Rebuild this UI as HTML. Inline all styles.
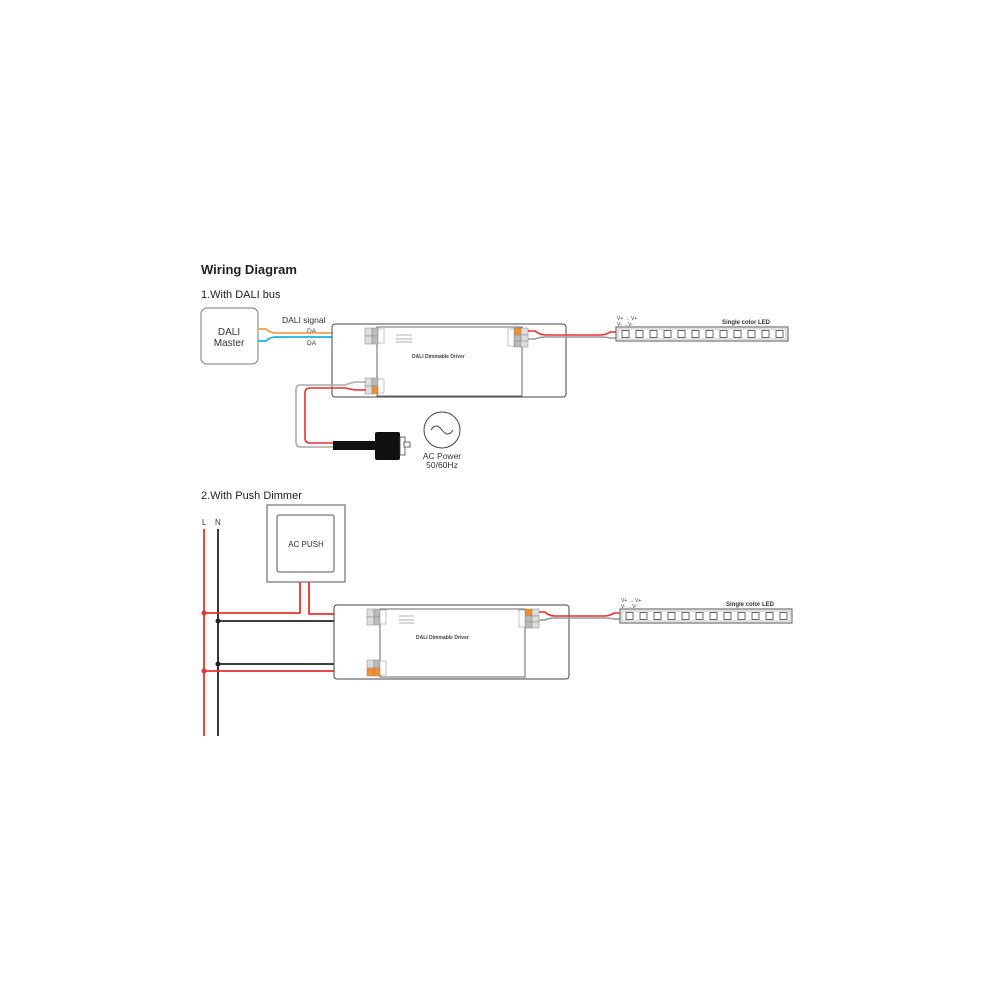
<!DOCTYPE html>
<html><head><meta charset="utf-8"><style>
html,body{margin:0;padding:0;background:#fff;width:1000px;height:1000px;overflow:hidden}
text{font-family:"Liberation Sans",sans-serif}
</style></head><body>
<svg width="1000" height="1000" viewBox="0 0 1000 1000" xmlns="http://www.w3.org/2000/svg">
<defs>
<g id="led">
  <rect x="0" y="0" width="172" height="14" fill="#fff" stroke="#555" stroke-width="1"/>
  <rect x="2" y="2" width="168" height="10" fill="none" stroke="#999" stroke-width="0.6"/>
  <g fill="#fff" stroke="#444" stroke-width="0.8">
    <rect x="6" y="3.5" width="7" height="7"/><rect x="20" y="3.5" width="7" height="7"/>
    <rect x="34" y="3.5" width="7" height="7"/><rect x="48" y="3.5" width="7" height="7"/>
    <rect x="62" y="3.5" width="7" height="7"/><rect x="76" y="3.5" width="7" height="7"/>
    <rect x="90" y="3.5" width="7" height="7"/><rect x="104" y="3.5" width="7" height="7"/>
    <rect x="118" y="3.5" width="7" height="7"/><rect x="132" y="3.5" width="7" height="7"/>
    <rect x="146" y="3.5" width="7" height="7"/><rect x="160" y="3.5" width="7" height="7"/>
  </g>
</g>
</defs>

<text x="201" y="274" font-size="13" font-weight="bold" fill="#222">Wiring Diagram</text>
<text x="201" y="298" font-size="11" fill="#222">1.With DALI bus</text>

<!-- DALI master -->
<rect x="201" y="308" width="57" height="56" rx="6" fill="#fff" stroke="#777" stroke-width="1"/>
<text x="229" y="335" font-size="10" text-anchor="middle" fill="#333">DALI</text>
<text x="229" y="346" font-size="10" text-anchor="middle" fill="#333">Master</text>
<text x="282" y="323" font-size="8.5" fill="#333">DALI signal</text>
<text x="307" y="333" font-size="6.5" fill="#333">DA</text>
<text x="307" y="345" font-size="6.5" fill="#333">DA</text>
<path d="M258 329 L266 329 Q270 333 276 333 L352 333 Q358 333 362 331 L367 331" fill="none" stroke="#f0a050" stroke-width="1.8"/>
<path d="M258 341 L266 341 Q270 337 276 337 L352 337 Q358 337 362 339 L367 339" fill="none" stroke="#20b0e0" stroke-width="1.8"/>

<!-- Driver 1 -->
<rect x="332" y="324" width="234" height="73" rx="3" fill="#fff" stroke="#444" stroke-width="1"/>
<rect x="377" y="327" width="145" height="69" fill="#fff" stroke="#444" stroke-width="0.8"/>
<g stroke="#888" stroke-width="0.5">
<rect x="365" y="328" width="7" height="8" fill="#ddd"/><rect x="372" y="328" width="6" height="8" fill="#bbb"/>
<rect x="365" y="336" width="7" height="8" fill="#ddd"/><rect x="372" y="336" width="6" height="8" fill="#bbb"/>
<rect x="365" y="378" width="7" height="8" fill="#ddd"/><rect x="372" y="378" width="6" height="8" fill="#bbb"/>
<rect x="365" y="386" width="7" height="8" fill="#ddd"/><rect x="372" y="386" width="6" height="8" fill="#f0902a"/>
<rect x="378" y="329" width="6" height="14" fill="#fff"/><rect x="378" y="379" width="6" height="14" fill="#fff"/>
<rect x="514" y="328" width="7" height="7" fill="#f0902a"/><rect x="521" y="328" width="7" height="7" fill="#ddd"/>
<rect x="514" y="335" width="7" height="6" fill="#bbb"/><rect x="521" y="335" width="7" height="6" fill="#ddd"/>
<rect x="514" y="341" width="7" height="6" fill="#bbb"/><rect x="521" y="341" width="7" height="6" fill="#ddd"/>
<rect x="508" y="329" width="6" height="17" fill="#fff"/>
</g>
<text x="412" y="358" font-size="5" font-weight="bold" fill="#444">DALI Dimmable Driver</text>
<g stroke="#666" stroke-width="0.5"><line x1="396" y1="335" x2="412" y2="335"/><line x1="396" y1="339" x2="412" y2="339"/><line x1="396" y1="342" x2="412" y2="342"/></g>

<!-- output 1 -->
<path d="M528 331 L535 331 Q540 335 546 335 L600 335 Q606 335 610 332 L617 332" fill="none" stroke="#e83030" stroke-width="1.6"/>
<path d="M528 339 L535 339 Q540 337 546 337 L600 337 Q606 337 610 338 L617 338" fill="none" stroke="#999" stroke-width="1.6"/>
<use href="#led" x="616" y="327"/>
<text x="617" y="320" font-size="5" fill="#333">V+  →  V+</text>
<text x="617" y="326" font-size="5" fill="#333">V-    →V-</text>
<text x="722" y="324" font-size="6" font-weight="bold" fill="#333">Single color LED</text>

<!-- AC 1 -->
<path d="M366 382 L355 382 Q350 383 345 385 L300 385 Q296 385 296 390 L296 442 Q296 447 301 447 L335 447" fill="none" stroke="#aaa" stroke-width="1.6"/>
<path d="M366 390 L355 390 Q350 389 345 388 L310 388 Q305 388 305 393 L305 438 Q305 443 310 443 L335 443" fill="none" stroke="#e83030" stroke-width="1.6"/>
<rect x="333" y="441" width="44" height="9" fill="#111"/>
<rect x="375" y="432" width="25" height="28" rx="2" fill="#111"/>
<rect x="400" y="437" width="5" height="18" fill="#fff" stroke="#444" stroke-width="0.8"/>
<rect x="404" y="442" width="6" height="5" fill="#fff" stroke="#444" stroke-width="0.8"/>
<circle cx="442" cy="430" r="18" fill="#fff" stroke="#444" stroke-width="1"/>
<path d="M431 430 Q436 422 442 430 Q448 438 453 430" fill="none" stroke="#444" stroke-width="1"/>
<text x="442" y="459" font-size="8.5" text-anchor="middle" fill="#333">AC Power</text>
<text x="442" y="468" font-size="8.5" text-anchor="middle" fill="#333">50/60Hz</text>

<!-- Section 2 -->
<text x="201" y="499" font-size="11" fill="#222">2.With Push Dimmer</text>
<text x="202" y="525" font-size="8" fill="#333">L</text>
<text x="215" y="525" font-size="8" fill="#333">N</text>
<line x1="204" y1="529" x2="204" y2="736" stroke="#e83030" stroke-width="1.8"/>
<line x1="218" y1="529" x2="218" y2="736" stroke="#222" stroke-width="1.8"/>

<rect x="267" y="505" width="78" height="77" fill="#fff" stroke="#555" stroke-width="1"/>
<rect x="277" y="515" width="57" height="57" rx="2" fill="#fff" stroke="#555" stroke-width="1"/>
<text x="306" y="547" font-size="8" text-anchor="middle" fill="#333">AC PUSH</text>

<path d="M204 613 L300 613 L300 582" fill="none" stroke="#e83030" stroke-width="1.8"/>
<path d="M309 582 L309 614 L367 614" fill="none" stroke="#e83030" stroke-width="1.8"/>
<line x1="218" y1="621" x2="367" y2="621" stroke="#222" stroke-width="1.8"/>
<line x1="218" y1="664" x2="367" y2="664" stroke="#222" stroke-width="1.8"/>
<line x1="204" y1="671" x2="367" y2="671" stroke="#e83030" stroke-width="1.8"/>
<circle cx="204" cy="613" r="2.5" fill="#e83030"/>
<circle cx="218" cy="621" r="2.5" fill="#222"/>
<circle cx="218" cy="664" r="2.5" fill="#222"/>
<circle cx="204" cy="671" r="2.5" fill="#e83030"/>

<!-- Driver 2 -->
<rect x="334" y="605" width="235" height="74" rx="3" fill="#fff" stroke="#444" stroke-width="1"/>
<rect x="380" y="609" width="145" height="68" fill="#fff" stroke="#444" stroke-width="0.8"/>
<g stroke="#888" stroke-width="0.5">
<rect x="367" y="609" width="7" height="8" fill="#ddd"/><rect x="374" y="609" width="6" height="8" fill="#bbb"/>
<rect x="367" y="617" width="7" height="8" fill="#ddd"/><rect x="374" y="617" width="6" height="8" fill="#bbb"/>
<rect x="367" y="660" width="7" height="8" fill="#ddd"/><rect x="374" y="660" width="6" height="8" fill="#bbb"/>
<rect x="367" y="668" width="7" height="8" fill="#f0902a"/><rect x="374" y="668" width="6" height="8" fill="#f0902a"/>
<rect x="380" y="610" width="6" height="14" fill="#fff"/><rect x="380" y="661" width="6" height="14" fill="#fff"/>
<rect x="525" y="609" width="7" height="7" fill="#f0902a"/><rect x="532" y="609" width="7" height="7" fill="#ddd"/>
<rect x="525" y="616" width="7" height="6" fill="#bbb"/><rect x="532" y="616" width="7" height="6" fill="#ddd"/>
<rect x="525" y="622" width="7" height="6" fill="#bbb"/><rect x="532" y="622" width="7" height="6" fill="#ddd"/>
<rect x="519" y="610" width="6" height="17" fill="#fff"/>
</g>
<text x="416" y="639" font-size="5" font-weight="bold" fill="#444">DALI Dimmable Driver</text>
<g stroke="#666" stroke-width="0.5"><line x1="399" y1="616" x2="414" y2="616"/><line x1="399" y1="620" x2="414" y2="620"/><line x1="399" y1="623" x2="414" y2="623"/></g>

<path d="M539 612 L545 612 Q549 616 555 616 L604 616 Q610 616 614 613 L621 613" fill="none" stroke="#e83030" stroke-width="1.6"/>
<path d="M539 620 L545 620 Q549 618 555 618 L604 618 Q610 618 614 619 L621 619" fill="none" stroke="#999" stroke-width="1.6"/>
<use href="#led" x="620" y="609"/>
<text x="621" y="602" font-size="5" fill="#333">V+  →  V+</text>
<text x="621" y="608" font-size="5" fill="#333">V-    →V-</text>
<text x="726" y="606" font-size="6" font-weight="bold" fill="#333">Single color LED</text>
</svg>
</body></html>
